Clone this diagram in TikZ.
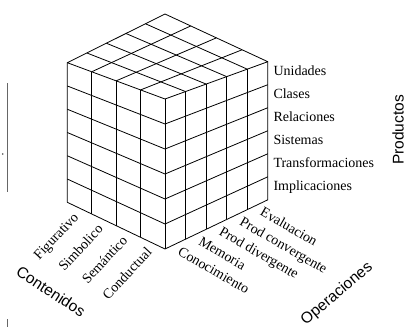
\documentclass[tikz,border=0pt]{standalone}
\usepackage{fontspec}
\setmainfont{Liberation Serif}
\newfontfamily\titlefont{Liberation Sans}
\usetikzlibrary{calc}
\tikzset{
  cubeline/.style={line width=0.8pt, line join=round, black},
  lab/.style={font=\fontsize{14}{14}\selectfont, inner sep=0pt, text height=0.7em, text depth=0.2em},
  ttl/.style={font=\titlefont\fontsize{15.5}{15.5}\selectfont, inner sep=0pt},
  scan/.style={line width=0.5pt, black!60}
}
\begin{document}
\begin{tikzpicture}[x=1pt,y=-1pt]
\useasboundingbox (0,0) rectangle (406,327);
% corners
\coordinate (LT) at (67.3,62.7);
\coordinate (FT) at (165,99);
\coordinate (RT) at (267.8,61.7);
\coordinate (BT) at (165,14);
\coordinate (LB) at (67.3,202.3);
\coordinate (FB) at (165,249);
\coordinate (RB) at (267.8,199.8);
% outline
\draw[cubeline] (LT) -- (FT) -- (RT) -- (BT) -- cycle;
\draw[cubeline] (LT) -- (LB) -- (FB) -- (RB) -- (RT);
\draw[cubeline] (FT) -- (FB);
% left face
\foreach \i in {1,2,3}{
  \draw[cubeline] ($(LT)!\i/4!(FT)$) -- ($(LB)!\i/4!(FB)$);}
\foreach \j in {1,...,5}{
  \draw[cubeline] ($(LT)!\j/6!(LB)$) -- ($(FT)!\j/6!(FB)$);}
% right face
\foreach \i in {1,...,4}{
  \draw[cubeline] ($(FT)!\i/5!(RT)$) -- ($(FB)!\i/5!(RB)$);}
\foreach \j in {1,...,5}{
  \draw[cubeline] ($(FT)!\j/6!(FB)$) -- ($(RT)!\j/6!(RB)$);}
% top face
\foreach \v in {1,...,4}{
  \draw[cubeline] ($(LT)!\v/5!(BT)$) -- ($(FT)!\v/5!(RT)$);}
\foreach \u in {1,2,3}{
  \draw[cubeline] ($(LT)!\u/4!(FT)$) -- ($(BT)!\u/4!(RT)$);}
% Productos labels
\foreach \t [count=\k from 0] in {Unidades,Clases,Relaciones,Sistemas,Transformaciones,Implicaciones}{
  \node[lab, anchor=west] (p\k) at ($(RT)!{(\k+0.5)/6}!(RB)+(5.5,0)$) {\t};}
\node[ttl, rotate=90] (productos) at (398,130) {Productos};
% Contenidos labels
\foreach \t [count=\k from 0] in {Figurativo,Simbolico,Semántico,Conductual}{
  \node[lab, anchor=east, rotate=47] (c\k) at ($(LB)!{(\k+0.5)/4}!(FB)+(-2,8)$) {\t};}
\node[ttl, rotate=-33] (contenidos) at (51,291.5) {Contenidos};
% Operaciones labels
\foreach \t [count=\k from 0] in {Conocimiento,Memoria,Prod divergente,Prod convergente,Evaluacion}{
  \node[lab, anchor=west, rotate=-30] (o\k) at ($(FB)!{(\k+0.5)/5}!(RB)+(3,8)$) {\t};}
\node[ttl, rotate=40] (operaciones) at (337,294) {Operaciones};
% scan marks at left edge
\draw[scan] (7.3,83) -- (7.3,192);
\fill[black!70] (2.7,154) circle (0.9);
\draw[scan] (7.3,319) -- (7.3,327);
\end{tikzpicture}
\end{document}
